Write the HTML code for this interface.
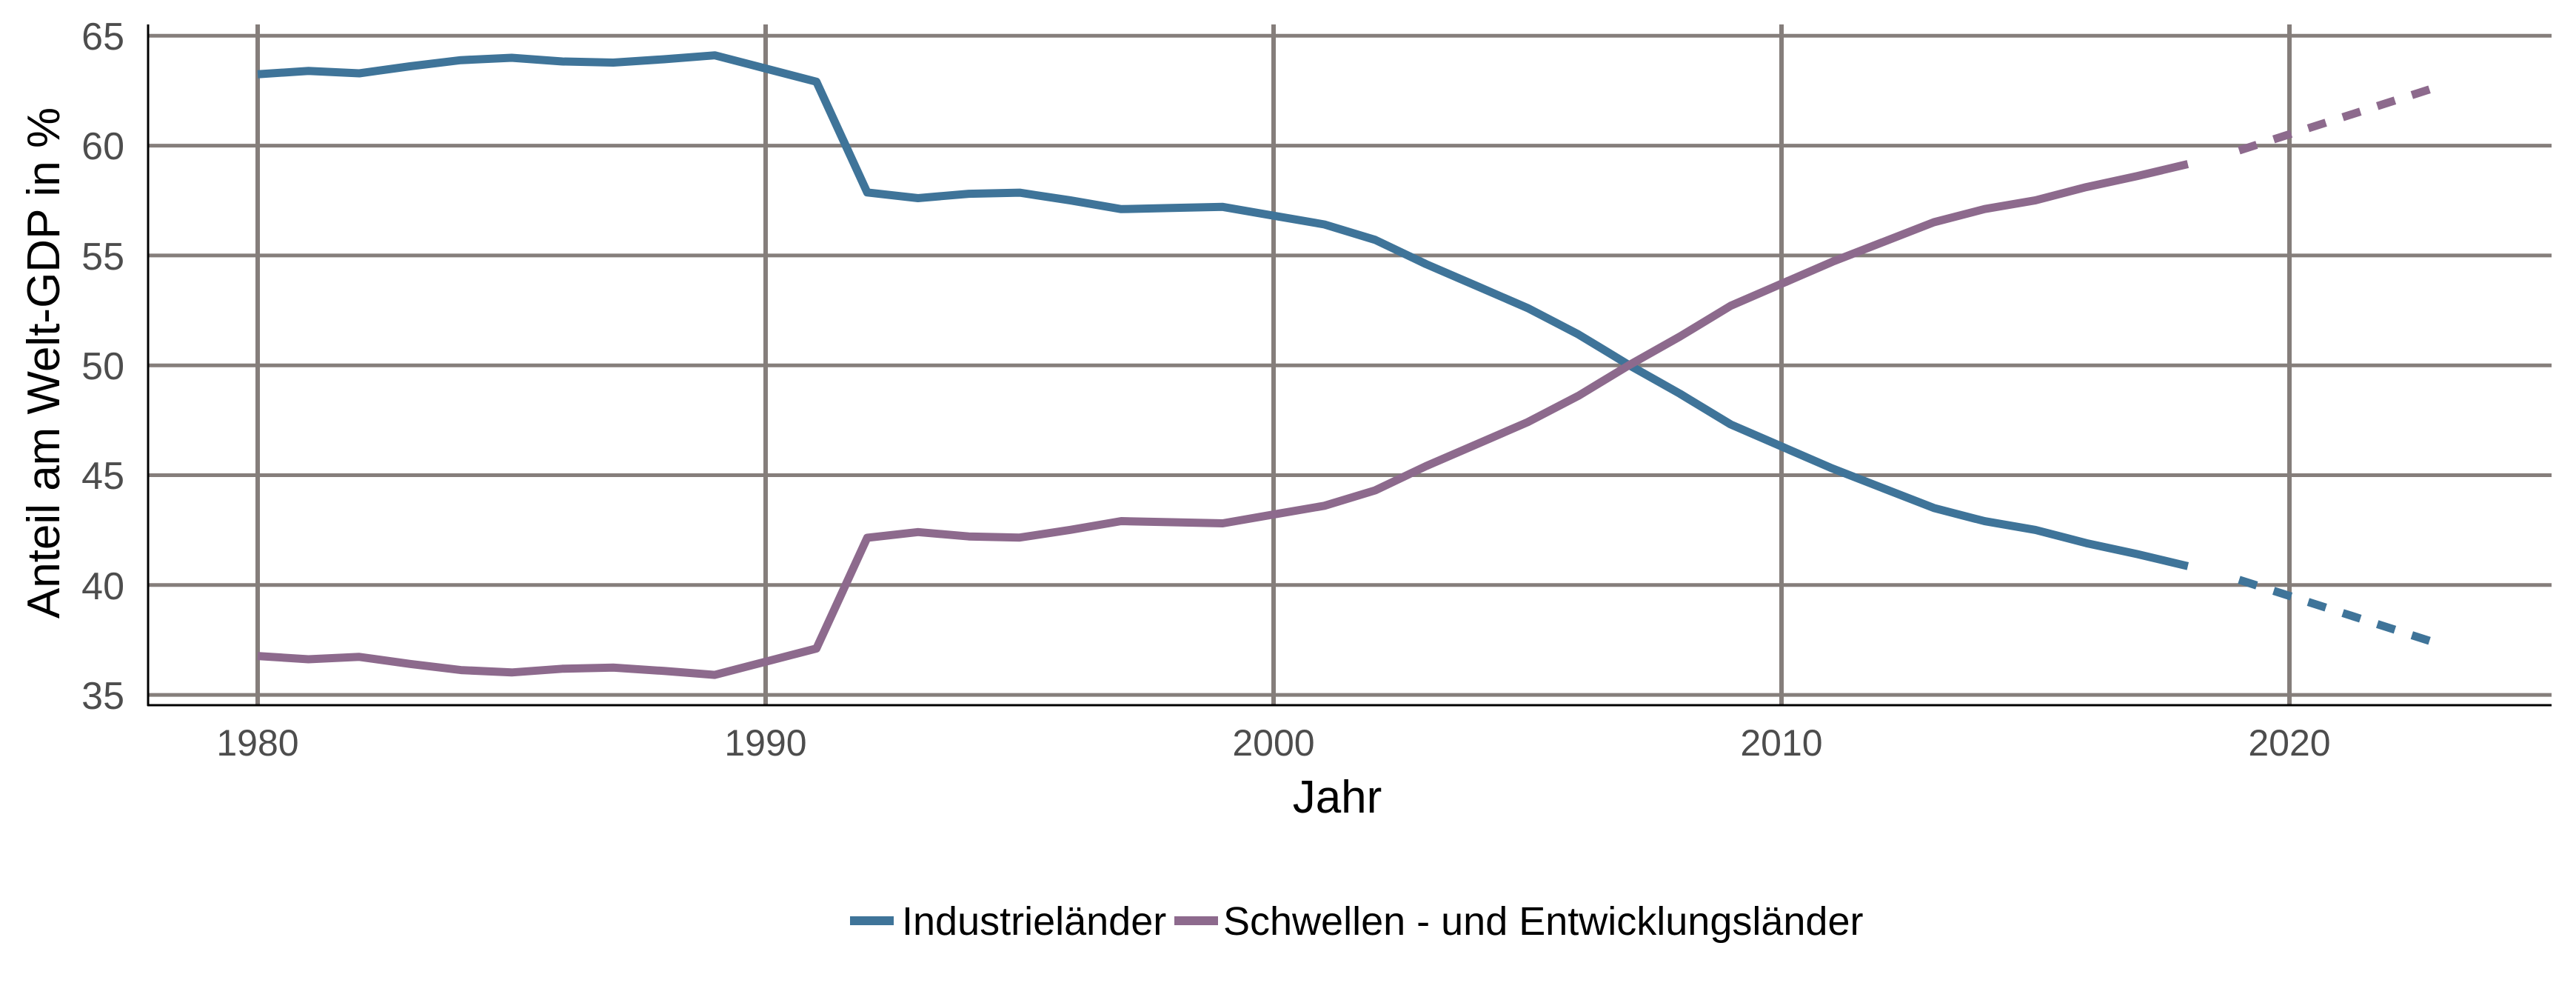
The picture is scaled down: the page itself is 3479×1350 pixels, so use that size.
<!DOCTYPE html>
<html><head><meta charset="utf-8"><style>
html,body{margin:0;padding:0;background:#fff;}
svg{display:block;}
text{font-family:"Liberation Sans",sans-serif;}
</style></head><body>
<svg width="3479" height="1350" viewBox="0 0 3479 1350" xmlns="http://www.w3.org/2000/svg">
<g stroke="#857e7b" stroke-width="5">
<line x1="200" x2="3446" y1="48.3" y2="48.3"/>
<line x1="200" x2="3446" y1="196.6" y2="196.6"/>
<line x1="200" x2="3446" y1="344.9" y2="344.9"/>
<line x1="200" x2="3446" y1="493.2" y2="493.2"/>
<line x1="200" x2="3446" y1="641.5" y2="641.5"/>
<line x1="200" x2="3446" y1="789.8" y2="789.8"/>
<line x1="200" x2="3446" y1="938.1" y2="938.1"/>
</g>
<g stroke="#857e7b" stroke-width="6">
<line x1="348" x2="348" y1="33" y2="952"/>
<line x1="1034" x2="1034" y1="33" y2="952"/>
<line x1="1720" x2="1720" y1="33" y2="952"/>
<line x1="2406" x2="2406" y1="33" y2="952"/>
<line x1="3092" x2="3092" y1="33" y2="952"/>
</g>
<line x1="200" x2="200" y1="33" y2="953" stroke="#000" stroke-width="3"/>
<line x1="199" x2="3446" y1="952" y2="952" stroke="#000" stroke-width="3"/>
<g font-size="52" fill="#4d4d4d" text-anchor="end">
<text x="168" y="67">65</text>
<text x="168" y="215">60</text>
<text x="168" y="364">55</text>
<text x="168" y="512">50</text>
<text x="168" y="660">45</text>
<text x="168" y="809">40</text>
<text x="168" y="957">35</text>
</g>
<g font-size="50" fill="#4d4d4d" text-anchor="middle">
<text x="348" y="1020">1980</text>
<text x="1034" y="1020">1990</text>
<text x="1720" y="1020">2000</text>
<text x="2406" y="1020">2010</text>
<text x="3092" y="1020">2020</text>
</g>
<text x="1806" y="1097" font-size="62" text-anchor="middle" fill="#000">Jahr</text>
<text transform="translate(80,490) rotate(-90)" font-size="62" text-anchor="middle" fill="#000">Anteil am Welt-GDP in %</text>
<g fill="none" stroke-width="11" stroke-linejoin="round">
<polyline stroke="#3f7499" points="348,100.2 416.6,95.8 485.2,99 553.8,89.5 622.4,81.2 691,78 759.6,83 828.2,84.5 896.8,80 965.4,74.7 1034,92.5 1102.6,110.3 1171.2,259.8 1239.8,267.5 1308.4,261.6 1377,260.1 1445.6,270.5 1514.2,282.3 1582.8,280.8 1651.4,279.3 1720,291.2 1788.6,303 1857.2,323.8 1925.8,356.5 1994.4,386.1 2063,415.8 2131.6,451.4 2200.2,492.9 2268.8,531.5 2337.4,573 2406,602.7 2474.6,632.4 2543.2,659.1 2611.8,685.8 2680.4,703.6 2749,715.4 2817.6,733.2 2886.2,748 2954.8,764.3"/>
<polyline stroke="#8d6a8d" points="348,885.6 416.6,890 485.2,886.8 553.8,896.3 622.4,904.6 691,907.8 759.6,902.8 828.2,901.3 896.8,905.8 965.4,911.1 1034,893.3 1102.6,875.5 1171.2,726 1239.8,718.3 1308.4,724.2 1377,725.7 1445.6,715.3 1514.2,703.5 1582.8,705 1651.4,706.5 1720,694.6 1788.6,682.8 1857.2,662 1925.8,629.3 1994.4,599.7 2063,570 2131.6,534.4 2200.2,492.9 2268.8,454.3 2337.4,412.8 2406,383.1 2474.6,353.4 2543.2,326.7 2611.8,300 2680.4,282.2 2749,270.4 2817.6,252.6 2886.2,237.8 2954.8,221.5"/>
<line stroke="#3f7499" stroke-dasharray="25,24" x1="3024" y1="782.7" x2="3298" y2="870.5"/>
<line stroke="#8d6a8d" stroke-dasharray="25,24" x1="3024" y1="203.1" x2="3298" y2="115.3"/>
</g>
<rect x="1148" y="1237" width="59" height="12" fill="#3f7499"/>
<text x="1218" y="1262" font-size="54" fill="#000">Industrieländer</text>
<rect x="1586" y="1237" width="59" height="12" fill="#8d6a8d"/>
<text x="1652" y="1262" font-size="54" fill="#000">Schwellen - und Entwicklungsländer</text>
</svg>
</body></html>
